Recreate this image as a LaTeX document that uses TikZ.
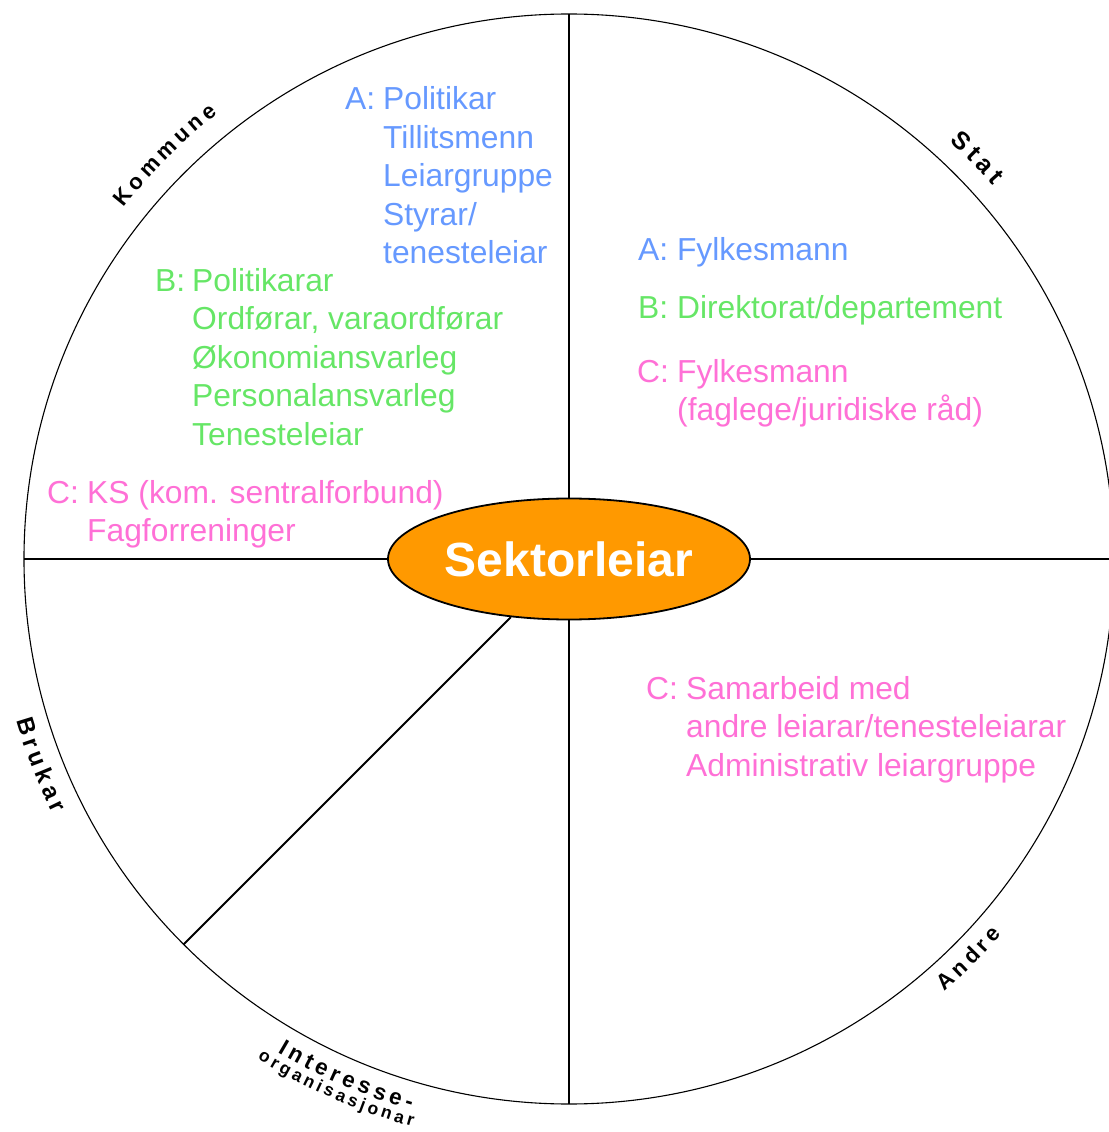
\documentclass[tikz,border=0pt]{standalone}
\usepackage{fontspec}
\setmainfont{Liberation Sans}
\newfontfamily\rimfamily[WordSpace=0.7]{Liberation Sans}
\usetikzlibrary{shapes.geometric, decorations.text}

\definecolor{ablue}{RGB}{102,153,255}
\definecolor{bgreen}{RGB}{102,230,102}
\definecolor{cpink}{RGB}{255,112,214}
\definecolor{sektororange}{RGB}{255,153,0}

\newcommand{\rimfont}[1]{\rimfamily\fontsize{#1}{#1}\bfseries\selectfont}

\begin{document}
\begin{tikzpicture}[
            x = 1pt, y = 1pt, % one unit = one pixel
            line join = round
        ]

        \tikzstyle{entry}=[
            anchor = base west,
            inner sep = 0pt,
            font = \fontsize{31.8}{38.4}\selectfont
        ]
        \tikzstyle{rim}=[
            decorate,
            decoration = {text along path, text align = center}
        ]
        \tikzstyle{sector}=[line width = 1.8pt]

        \useasboundingbox (-569,-573) rectangle (539,559);

        % outer circle
        \draw[line width = 1.1pt] (0,0) circle[radius = 545pt];

        \node[ellipse, draw = black, line width = 1.8pt, fill = sektororange,
              minimum width = 362pt, minimum height = 121pt, inner sep = 0pt,
              text = white, font = \fontsize{48}{48}\bfseries\selectfont]
              (sektor) at (0,0) {Sektorleiar};

        \coordinate (rimN) at (90:545);
        \coordinate (rimS) at (270:545);
        \coordinate (rimW) at (180:545);
        \coordinate (rimE) at (0:545);
        \coordinate (rimSW) at (225:545);

        \draw[sector] (sektor) -- (rimN);
        \draw[sector] (sektor) -- (rimS);
        \draw[sector] (sektor) -- (rimW);
        \draw[sector] (sektor) -- (rimE);
        \draw[sector] (sektor) -- (rimSW);

        % Kommune
        \node[entry, text = ablue] (kommuneA) at (-224,449) {%
            \begin{tabular}[t]{@{}p{38pt}@{}l@{}}
                A: & Politikar\\ & Tillitsmenn\\ & Leiargruppe\\ & Styrar/\\ & tenesteleiar
            \end{tabular}};
        \node[entry, text = bgreen] (kommuneB) at (-414,267.5) {%
            \begin{tabular}[t]{@{}p{37pt}@{}l@{}}
                B: & Politikarar\\ & Ordførar, varaordførar\\ & Økonomiansvarleg\\
                   & Personalansvarleg\\ & Tenesteleiar
            \end{tabular}};
        \node[entry, text = cpink] (kommuneC) at (-522,55.5) {%
            \begin{tabular}[t]{@{}p{40pt}@{}l@{}}
                C: & KS (kom. sentralforbund)\\ & Fagforreninger
            \end{tabular}};

        % Stat
        \node[entry, text = ablue] (statA) at (69,298.5) {A: Fylkesmann};
        \node[entry, text = bgreen] (statB) at (69,240.5) {B: Direktorat/departement};
        \node[entry, text = cpink] (statC) at (68,176.5) {%
            \begin{tabular}[t]{@{}p{40pt}@{}l@{}}
                C: & Fylkesmann\\ & (faglege/juridiske råd)
            \end{tabular}};

        % Andre
        \node[entry, text = cpink] (andreC) at (77,-140.5) {%
            \begin{tabular}[t]{@{}p{40pt}@{}l@{}}
                C: & Samarbeid med\\ & andre leiarar/tenesteleiarar\\ & Administrativ leiargruppe
            \end{tabular}};

        % labels round the rim
        \path[rim, decoration = {text = {|\rimfont{22}|K o m m u n e}}]
            (160:567) arc[start angle = 160, end angle = 110, radius = 567pt];
        \path[rim, decoration = {text = {|\rimfont{25}|S t a t}}]
            (69.5:565) arc[start angle = 69.5, end angle = 19.5, radius = 565pt];
        \path[rim, decoration = {text = {|\rimfont{22}|A n d r e}}]
            (-70:573) arc[start angle = -70, end angle = -20, radius = 573pt];
        \path[rim, decoration = {text = {|\rimfont{24}|B r u k a r}}]
            (176.3:576) arc[start angle = 176.3, end angle = 226.3, radius = 576pt];
        \path[rim, decoration = {text = {|\rimfont{22.5}|I n t e r e s s e -}}]
            (221.7:573) arc[start angle = 221.7, end angle = 271.7, radius = 573pt];
        \path[rim, decoration = {text = {|\rimfont{17.5}|o r g a n i s a s j o n a r}}]
            (221.3:589) arc[start angle = 221.3, end angle = 271.3, radius = 589pt];

    \end{tikzpicture}
\end{document}
